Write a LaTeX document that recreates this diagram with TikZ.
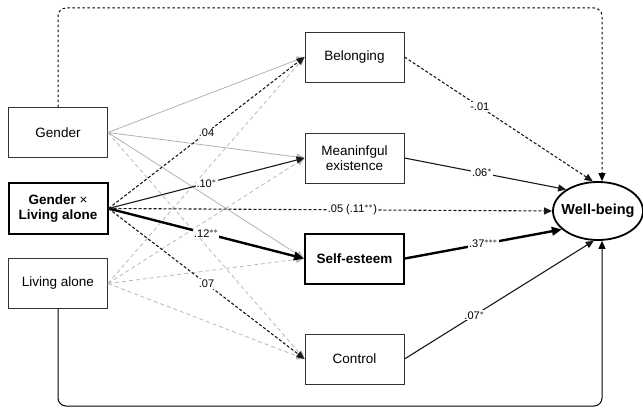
\documentclass[tikz,border=0pt]{standalone}
\usepackage{fontspec}
\setmainfont{Liberation Sans}
\usetikzlibrary{arrows.meta,shapes.geometric,calc}
\begin{document}
\begin{tikzpicture}[x=1pt,y=-1pt,
  box/.style={draw=black!80, line width=0.9pt, minimum width=99pt, minimum height=50pt, inner sep=0pt, align=center, font=\fontsize{13.5}{15.5}\selectfont},
  boldbox/.style={box, draw=black, line width=2pt, font=\bfseries\fontsize{13.5}{15.5}\selectfont},
  wbstyle/.style={draw=black, line width=1.8pt, ellipse, minimum width=90pt, minimum height=58pt, inner sep=0pt, font=\bfseries\fontsize{14.5}{16}\selectfont},
  tip/.style={-{Triangle[length=8pt,width=7pt]}},
  bigtip/.style={-{Triangle[length=10pt,width=8.5pt]}},
  gl/.style={draw=black!30, line width=0.8pt, tip},
  gld/.style={draw=black!28, line width=0.8pt, tip, dash pattern=on 4pt off 3pt},
  bl/.style={draw=black!90, line width=1.1pt, tip},
  bld/.style={draw=black!90, line width=1.1pt, tip, dash pattern=on 3pt off 2pt},
  bthick/.style={draw=black, line width=2.4pt, bigtip},
  loopd/.style={draw=black, line width=1pt, tip, dash pattern=on 2.5pt off 2.5pt, rounded corners=8pt},
  loops/.style={draw=black, line width=1pt, tip, rounded corners=8pt},
  lab/.style={fill=white, inner sep=1pt, font=\fontsize{11}{12}\selectfont}
]
\useasboundingbox (0,0) rectangle (643,409);

% nodes
\node[box] (gender) at (58,132.5) {Gender};
\node[boldbox] (gxl) at (58,208.5) {Gender {\mdseries ×}\\Living alone};
\node[box] (la) at (58,283.5) {Living alone};
\node[box] (bel) at (354.5,57) {Belonging};
\node[box] (mea) at (354.5,158) {Meaninfgul\\existence};
\node[boldbox] (se) at (354.5,258.5) {Self-esteem};
\node[box] (con) at (354.5,359) {Control};
\node[wbstyle] (wb) at (598,211) {\makebox[0pt]{Well-being}};

\coordinate (topc) at (602,8);
\coordinate (botc) at (602,406);

% loops
\draw[loopd] (gender.north) |- (topc) -- (topc |- wb.north);
\draw[loops] (la.south) |- (botc) -- (botc |- wb.south);

% gray paths
\draw[gl] (gender.east) -- (bel.west);
\draw[gl] (gender.east) -- (mea.west);
\draw[gl] (gender.east) -- (se.west);
\draw[gld] (gender.east) -- (con.west);
\draw[gld] (la.east) -- (bel.west);
\draw[gld] (la.east) -- (mea.west);
\draw[gld] (la.east) -- (se.west);
\draw[gld] (la.east) -- (con.west);

% black paths from interaction
\draw[bld] (gxl.east) -- node[lab, pos=0.5] {.04} (bel.west);
\draw[bl] (gxl.east) -- node[lab, pos=0.5] {.10$^{*}$} (mea.west);
\draw[bthick] (gxl.east) -- node[lab, pos=0.5] {.12$^{**}$} (se.west);
\draw[bld] (gxl.east) -- node[lab, pos=0.5] {.07} (con.west);
\draw[bld] (gxl.east) -- node[lab, pos=0.55] {.05 (.11$^{**}$)} (wb.west);

% mediators to well-being
\draw[bld] (bel.east) -- node[lab, pos=0.4] {-.01} (wb.100);
\draw[bl] (mea.east) -- node[lab, pos=0.48] {.06$^{*}$} (wb.146);
\draw[bthick] (se.east) -- node[lab, pos=0.5] {.37$^{***}$} (wb.207);
\draw[bl] (con.east) -- node[lab, pos=0.37] {.07$^{*}$} (wb.262);
\end{tikzpicture}
\end{document}
